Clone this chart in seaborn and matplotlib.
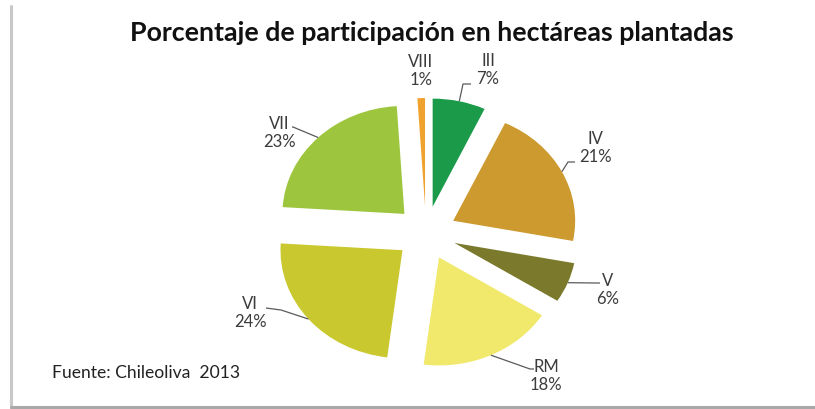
import matplotlib
matplotlib.use("Agg")
import matplotlib.pyplot as plt
from matplotlib.lines import Line2D
import numpy as np
import seaborn as sns

# Regiones y su participación (%) en hectáreas plantadas
regions = ["III", "IV", "V", "RM", "VI", "VII", "VIII"]
shares = [7, 21, 6, 18, 24, 23, 1]
colors = ["#1b9a4a", "#cc9a2e", "#7b7a2c", "#f0e96c", "#c9c82e", "#9dc63e", "#f0a22e"]

title = "Porcentaje de participación en hectáreas plantadas"
source = "Fuente: Chileoliva  2013"

sns.set_theme(style="white")
plt.rcParams["font.family"] = ["Lato", "DejaVu Sans"]

W, H, DPI = 815, 409, 100
fig = plt.figure(figsize=(W / DPI, H / DPI), dpi=DPI)
fig.patch.set_facecolor("white")
ax = fig.add_axes([0, 0, 1, 1])

wedges, _ = ax.pie(
    shares,
    colors=colors,
    startangle=90,
    counterclock=False,
    explode=[0.25] * len(shares),
    radius=1.0,
    wedgeprops=dict(linewidth=0),
)

# slightly flattened pie: different pixel scale for x and y
CX, CY, RX, RY = 426, 233, 122, 108
ax.set_aspect("auto")
ax.set_xlim(-CX / RX, (W - CX) / RX)
ax.set_ylim((CY - H) / RY, CY / RY)
ax.axis("off")


def px(x, y):
    return ((x - CX) / RX, (CY - y) / RY)


# label layout (pixel positions of the text block and leader elbows)
label_pos = {
    "III": (488, 70), "IV": (595, 148), "V": (608, 290), "RM": (546, 376),
    "VI": (250, 313), "VII": (279, 133), "VIII": (421, 71),
}
leader_pts = {
    "III": [(463, 84), (471, 84)],
    "IV": [(568, 162), (575, 162)],
    "V": [(596, 283), (600, 283)],
    "RM": [(530, 369), (534, 369)],
    "VI": [(281, 310), (266, 308)],
    "VII": [(293, 127), (292, 127)],
}

for w, name, val in zip(wedges, regions, shares):
    mid = np.deg2rad((w.theta1 + w.theta2) / 2)
    cx, cy = w.center
    anchor = (cx + w.r * np.cos(mid), cy + w.r * np.sin(mid))
    if name in leader_pts:
        pts = [anchor] + [px(*p) for p in leader_pts[name]]
        xs, ys = zip(*pts)
        ax.plot(xs, ys, color="#5a5a5a", lw=0.9, solid_capstyle="butt")
    tx, ty = px(*label_pos[name])
    ax.text(tx, ty, f"{name}\n{val}%", ha="center", va="center",
            fontsize=12, color="#3c3c3c", linespacing=1.2)


def fit_width(txt, base, target):
    fig.canvas.draw()
    txt.set_fontsize(base * target / txt.get_window_extent().width)


# title, scaled to span its line
t = fig.text(431.5 / W, 1 - 33 / H, title, ha="center", va="center",
             fontsize=15, fontweight="bold", color="#111111")
fit_width(t, 15, 607)

s = fig.text(52 / W, 1 - 373 / H, source, ha="left", va="center",
             fontsize=12, color="#222222")
fit_width(s, 12, 188)

# frame shadow on the left and bottom edges
fig.add_artist(Line2D([11 / W, 11 / W], [0, 1 - 6 / H], transform=fig.transFigure,
                      color="#c8c8c8", lw=2.2))
fig.add_artist(Line2D([11 / W, 1], [2 / H, 2 / H], transform=fig.transFigure,
                      color="#a8a8a8", lw=2.2))

fig.savefig("out.png", dpi=DPI, facecolor="white")
